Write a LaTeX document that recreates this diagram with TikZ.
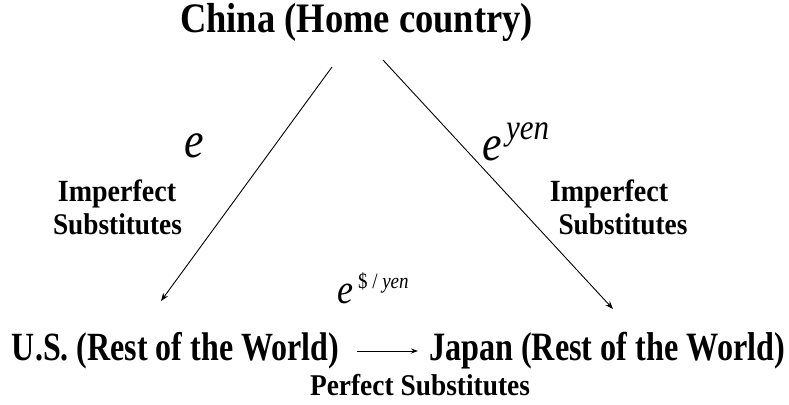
\documentclass[tikz,border=0pt]{standalone}
\usepackage{fontspec}
\setmainfont{Liberation Serif}
\usetikzlibrary{arrows.meta}
\newcommand{\fs}[1]{\fontsize{#1}{#1}\selectfont}
\tikzset{
  lbl/.style={inner sep=0pt, outer sep=0pt},
  conn/.style={line width=0.9pt, -{Stealth[length=8pt,width=6pt]}},
}
\begin{document}
\begin{tikzpicture}[x=1pt,y=-1pt]
\useasboundingbox (0,0) rectangle (789,404);
% main nodes
\node[lbl, anchor=base] (china) at (356.5,33) {\scalebox{1}[1.15]{\fs{36.5}\bfseries China (Home country)}};
\node[lbl, anchor=base west] (us) at (12,360) {\scalebox{1}[1.25]{\fs{32}\bfseries U.S. (Rest of the World)}};
\node[lbl, anchor=base west] (japan) at (429,360) {\scalebox{1}[1.25]{\fs{32.2}\bfseries Japan (Rest of the World)}};
% labels
\node[lbl, anchor=base] (imp1) at (117,201) {\scalebox{1}[1.1]{\fs{28}\bfseries Imperfect}};
\node[lbl, anchor=base] (sub1) at (117.5,234) {\scalebox{1}[1.1]{\fs{27.3}\bfseries Substitutes}};
\node[lbl, anchor=base] (imp2) at (609,201) {\scalebox{1}[1.1]{\fs{28}\bfseries Imperfect}};
\node[lbl, anchor=base] (sub2) at (623,234) {\scalebox{1}[1.1]{\fs{27.3}\bfseries Substitutes}};
\node[lbl, anchor=base] (perf) at (420,395) {\scalebox{1}[1.1]{\fs{27.4}\bfseries Perfect Substitutes}};
% exchange rates
\node[lbl, anchor=base west] (e1) at (184,157) {\scalebox{1}[1.15]{\fs{44}\itshape e}};
\node[lbl, anchor=base west] (e2) at (482,160) {\scalebox{1}[1.15]{\fs{44}\itshape e}};
\node[lbl, anchor=base west] (e2sup) at (506,139) {\scalebox{1}[1.15]{\fs{31}\itshape yen}};
\node[lbl, anchor=base west] (e3) at (337,303) {\scalebox{1}[1.15]{\fs{36}\itshape e}};
\node[lbl, anchor=base west] (e3sup) at (358,288) {\scalebox{1}[1.15]{\fs{19}\$ / \itshape yen}};
% connector ends
\coordinate (a1s) at (332,67);
\coordinate (a1e) at (161,301);
\coordinate (a2s) at (383,60);
\coordinate (a2e) at (613,309);
\coordinate (a3s) at (357,351);
\coordinate (a3e) at (418,351);
\draw[conn] (a1s) -- (a1e);
\draw[conn] (a2s) -- (a2e);
\draw[conn, -{Stealth[length=7pt,width=5pt]}] (a3s) -- (a3e);
\end{tikzpicture}
\end{document}
